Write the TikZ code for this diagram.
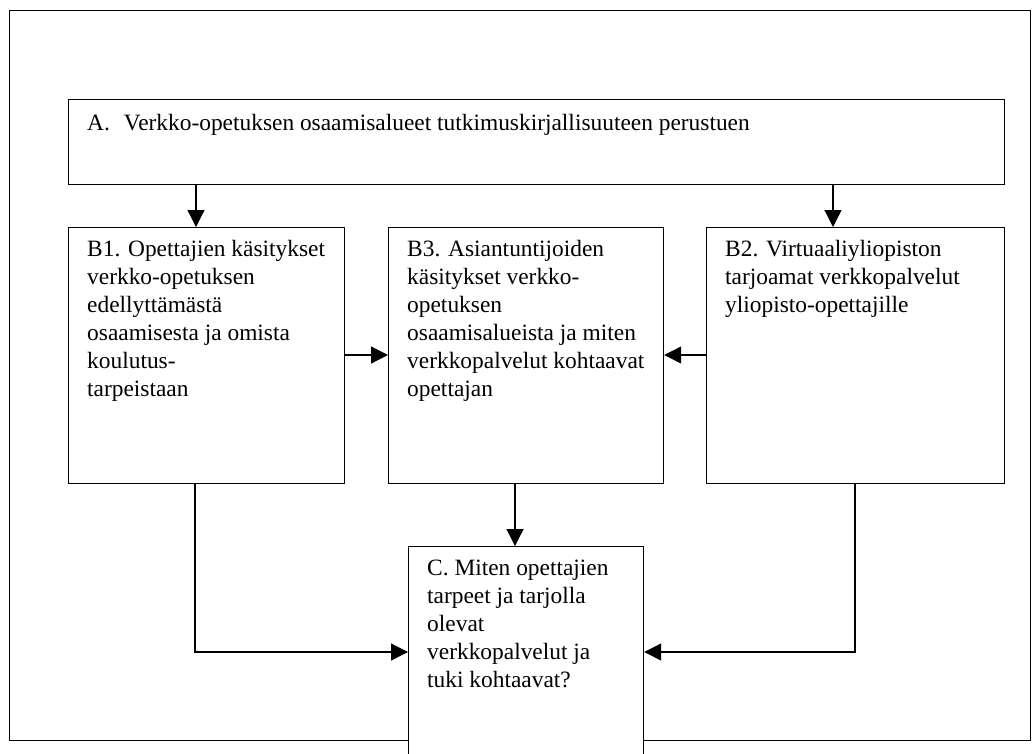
\documentclass[tikz,border=0pt]{standalone}
\usepackage{fontspec}
\setmainfont{Liberation Serif}
\usetikzlibrary{arrows.meta,calc}
\begin{document}
\begin{tikzpicture}[x=1pt,y=-1pt,
  box/.style={draw, line width=1.2pt, rectangle, anchor=north west, inner sep=0pt},
  txt/.style={anchor=north west, align=left, inner sep=0pt, font=\fontsize{23.4}{28}\selectfont},
  conn/.style={line width=1.2pt, -{Triangle[length=17pt,width=17pt]}}]
\useasboundingbox (0,0) rectangle (1032,753);
\clip (0,0) rectangle (1032,753);
\fill[white] (0,0) rectangle (1032,753);
% outer frame
\node[box, minimum width=1021pt, minimum height=730pt] (frame) at (9,10) {};
% boxes
\node[box, minimum width=936pt, minimum height=85pt] (A) at (68,99) {};
\node[box, minimum width=276pt, minimum height=256pt] (B1) at (68,227) {};
\node[box, minimum width=275pt, minimum height=256pt] (B3) at (388,227) {};
\node[box, minimum width=298pt, minimum height=256pt] (B2) at (706,227) {};
\node[box, fill=white, minimum width=235pt, minimum height=250pt] (C) at (408,546) {};
% texts (first baseline 29-31pt below the box top; strut height 19.6pt)
\node[txt] (tA) at ($(A.north west)+(19,11.4)$) {\strut A.\hspace{14pt}Verkko-opetuksen osaamisalueet tutkimuskirjallisuuteen perustuen};
\node[txt] (tB1) at ($(B1.north west)+(19,9.4)$) {\strut B1. Opettajien käsitykset\\verkko-opetuksen\\edellyttämästä\\osaamisesta ja omista\\koulutus-\\tarpeistaan};
\node[txt] (tB3) at ($(B3.north west)+(19,9.4)$) {\strut B3. Asiantuntijoiden\\käsitykset verkko-\\opetuksen\\osaamisalueista ja miten\\verkkopalvelut kohtaavat\\opettajan};
\node[txt] (tB2) at ($(B2.north west)+(19,9.4)$) {\strut B2. Virtuaaliyliopiston\\tarjoamat verkkopalvelut\\yliopisto-opettajille};
\node[txt] (tC) at ($(C.north west)+(19,9.4)$) {\strut C. Miten opettajien\\tarpeet ja tarjolla\\olevat\\verkkopalvelut ja\\tuki kohtaavat?};
% connectors
\draw[conn] (A.south -| 196,0) -- (B1.north -| 196,0);
\draw[conn] (A.south -| 833,0) -- (B2.north -| 833,0);
\draw[conn] (B1.east |- 0,355) -- (B3.west |- 0,355);
\draw[conn] (B2.west |- 0,355) -- (B3.east |- 0,355);
\draw[conn] (B3.south -| 515,0) -- (C.north -| 515,0);
\draw[conn] (B1.south -| 195,0) -- (195,652) -- (C.west |- 0,652);
\draw[conn] (B2.south -| 855,0) -- (855,652) -- (C.east |- 0,652);
\end{tikzpicture}
\end{document}
